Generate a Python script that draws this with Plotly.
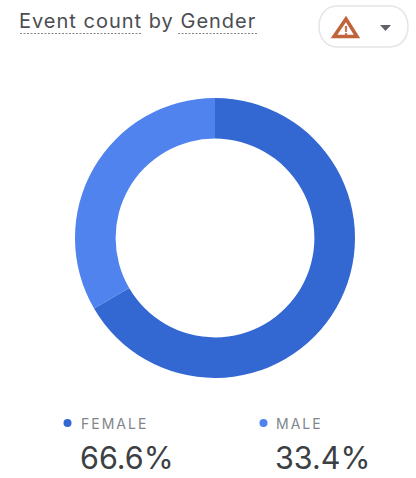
import plotly.graph_objects as go

categories = ["FEMALE", "MALE"]
values = [66.6, 33.4]
labels_pct = ["66.6%", "33.4%"]
colors = ["#3367D1", "#5083EE"]

W, H = 416, 478
def X(p): return p / W
def Y(p): return 1 - p / H

fig = go.Figure(go.Pie(
    labels=categories, values=values, hole=0.71, sort=False, direction="clockwise",
    rotation=0, textinfo="none", hoverinfo="label+percent",
    marker=dict(colors=colors, line=dict(width=0)),
    domain=dict(x=[X(75), X(355)], y=[Y(378), Y(98)]), showlegend=False,
))

def text(x, y, s, size, color, anchor="left", family="Inter, Roboto, sans-serif"):
    return dict(x=X(x), y=Y(y), xref="paper", yref="paper", text=s, showarrow=False,
                xanchor=anchor, yanchor="middle", align="left",
                font=dict(size=size, color=color, family=family))

annotations = [
    text(17, 21, "Event count by Gender", 20, "#4A4D52"),
    text(79, 423, categories[0], 14, "#80868B"),
    text(274, 423, categories[1], 14, "#80868B"),
    text(78, 457, labels_pct[0], 30.5, "#3C4043"),
    text(273, 457, labels_pct[1], 30.5, "#3C4043"),
    text(345.5, 30, "<b>!</b>", 12, "#C0623A", anchor="center"),
]

def circle(cx, cy, r, color):
    return dict(type="circle", xref="paper", yref="paper", x0=X(cx-r), x1=X(cx+r),
                y0=Y(cy+r), y1=Y(cy-r), fillcolor=color, line=dict(width=0))

def dash(x0, x1, y):
    return dict(type="line", xref="paper", yref="paper", x0=X(x0), x1=X(x1), y0=Y(y), y1=Y(y),
                line=dict(color="#80868B", width=1, dash="2px,1.5px"))

def path(points, close=True):
    d = "M " + " L ".join(f"{X(a):.4f},{Y(b):.4f}" for a, b in points)
    return d + (" Z" if close else "")

shapes = [
    dash(20, 141, 33.5), dash(178, 257, 33.5),
    circle(67.5, 423, 4, colors[0]), circle(263.5, 423, 4, colors[1]),
    dict(type="path", xref="paper", yref="paper", line=dict(color="#E3E5E8", width=1.5), fillcolor="white",
         path=f"M {X(337):.4f},{Y(6):.4f} L {X(390):.4f},{Y(6):.4f} "
              f"C {X(414):.4f},{Y(6):.4f} {X(414):.4f},{Y(47):.4f} {X(390):.4f},{Y(47):.4f} "
              f"L {X(337):.4f},{Y(47):.4f} "
              f"C {X(313):.4f},{Y(47):.4f} {X(313):.4f},{Y(6):.4f} {X(337):.4f},{Y(6):.4f} Z"),
    dict(type="path", xref="paper", yref="paper", fillcolor="rgba(0,0,0,0)",
         line=dict(color="#C0623A", width=3.5), path=path([(346, 19), (357, 36.5), (334, 36.5)])),
    dict(type="path", xref="paper", yref="paper", fillcolor="#5F6368", line=dict(width=0),
         path=path([(380, 25), (391, 25), (385.5, 31)])),
]

fig.update_layout(width=W, height=H, margin=dict(l=0, r=0, t=0, b=0), paper_bgcolor="white",
                  plot_bgcolor="white", annotations=annotations, shapes=shapes)
fig.write_html("out.html", config={"displayModeBar": False},
               post_script="document.body.style.margin='0';document.documentElement.style.overflow='hidden';"
                           "document.querySelectorAll('.annotation-text').forEach(function(t){"
                           "var s=t.textContent;"
                           "if(/^(FEMALE|MALE)$/.test(s)){t.style.letterSpacing='2px';}"
                           "if(s==='Event count by Gender'){t.style.letterSpacing='1px';}});")
